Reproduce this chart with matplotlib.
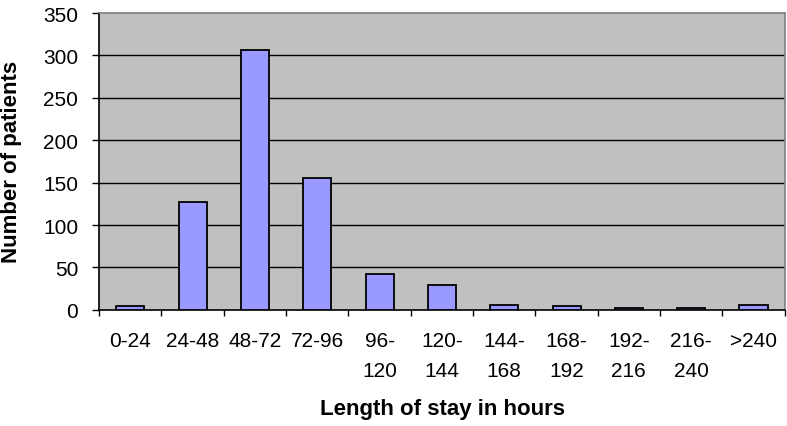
import matplotlib
matplotlib.use("Agg")
import matplotlib.pyplot as plt
import numpy as np

# data
CATEGORIES = ["0-24", "24-48", "48-72", "72-96", "96-\n120", "120-\n144",
              "144-\n168", "168-\n192", "192-\n216", "216-\n240", ">240"]
PATIENTS = [4, 127, 307, 155, 42, 29, 6, 4, 2, 2, 6]
Y_TICKS = [0, 50, 100, 150, 200, 250, 300, 350]

plt.rcParams["font.family"] = ["Liberation Sans", "DejaVu Sans"]

fig = plt.figure(figsize=(7.87, 4.27), dpi=100)
ax = fig.add_axes([0.126, 0.272, 0.871, 0.695])
ax.set_facecolor("#c0c0c0")

x = np.arange(len(CATEGORIES))
ax.bar(x, PATIENTS, width=0.45, color="#9999ff", edgecolor="black", linewidth=1.3, zorder=3)

ax.set_xlim(-0.5, len(CATEGORIES) - 0.5)
ax.set_ylim(0, 350)
ax.set_yticks(Y_TICKS)
for v in Y_TICKS[1:-1]:
    ax.axhline(v, color="black", linewidth=1.0, zorder=1)

# ticks between categories, labels centred under bars
ax.set_xticks(np.arange(len(CATEGORIES) + 1) - 0.5)
ax.set_xticklabels([])
ax.set_xticks(x, minor=True)
ax.set_xticklabels(CATEGORIES, minor=True, fontsize=15, linespacing=1.75)
ax.tick_params(axis="x", which="minor", length=0, pad=15)
ax.tick_params(axis="x", which="major", length=4.5, width=1, direction="out")
ax.tick_params(axis="y", length=5, width=1, labelsize=15, pad=10)

for side in ["top", "right"]:
    ax.spines[side].set_color("#808080")
    ax.spines[side].set_linewidth(1.2)
for side in ["left", "bottom"]:
    ax.spines[side].set_color("black")
    ax.spines[side].set_linewidth(1.2)

fig.text(12 / 787, 1 - 162 / 427, "Number of patients", rotation=90,
         ha="center", va="center", fontsize=16, fontweight="bold")
fig.text(442 / 787, 1 - 410 / 427, "Length of stay in hours",
         ha="center", va="center", fontsize=16, fontweight="bold")

fig.savefig("out.png", dpi=100)
